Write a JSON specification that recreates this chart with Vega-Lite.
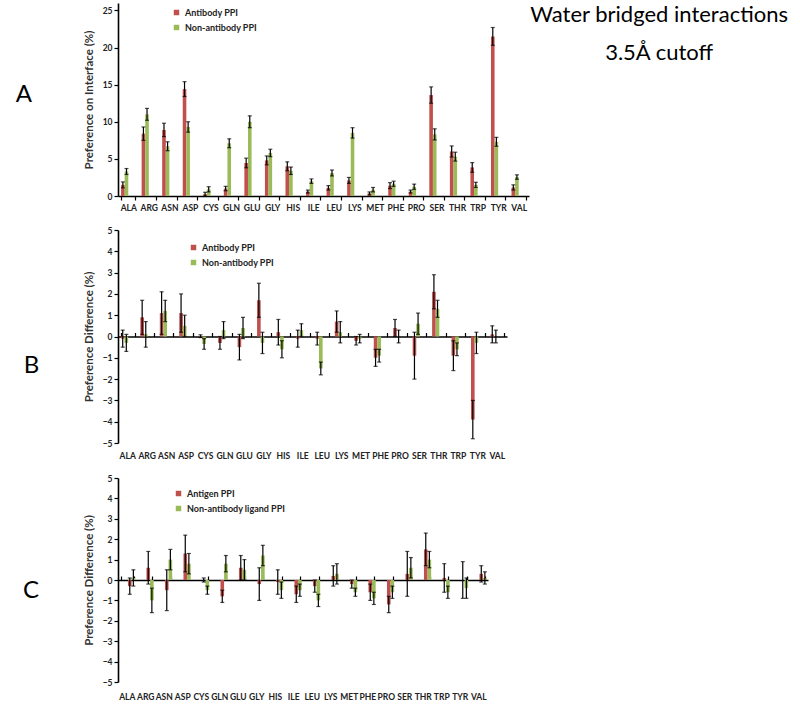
{
  "$schema": "https://vega.github.io/schema/vega-lite/v6.json",
  "background": "white",
  "padding": {"left": 15, "top": 3, "right": 2, "bottom": 2},
  "config": {
    "font": "Lato",
    "view": {"stroke": null},
    "axis": {"domainColor": "black", "domainWidth": 1.6, "tickColor": "black", "tickWidth": 1.2, "tickSize": 4, "labelFont": "Lato", "labelFontWeight": "bold", "labelFontSize": 8.5, "labelColor": "#222", "labelOverlap": false, "titleFont": "Lato", "titleFontWeight": "bold", "titleFontSize": 11.5, "titleColor": "#333", "grid": false},
    "legend": {"symbolType": "square", "symbolSize": 30, "symbolStrokeWidth": 0, "labelFont": "Lato", "labelFontSize": 9, "labelFontWeight": "bold", "labelColor": "#222", "rowPadding": 5, "title": null},
    "title": {"font": "Lato", "fontWeight": "normal", "color": "black"}
  },
  "title": {"text": ["Water bridged interactions", "3.5Å cutoff"], "orient": "right", "anchor": "start", "angle": 0, "align": "center", "baseline": "top", "fontSize": 22, "lineHeight": 38, "offset": -128, "dy": 2},
  "datasets": {
    "A": [
      {"aa": "ALA", "g": "Antibody PPI", "v": 1.5, "lo": 1.1, "hi": 1.9},
      {"aa": "ALA", "g": "Non-antibody PPI", "v": 3.3, "lo": 2.9, "hi": 3.7},
      {"aa": "ARG", "g": "Antibody PPI", "v": 8.4, "lo": 7.5, "hi": 9.3},
      {"aa": "ARG", "g": "Non-antibody PPI", "v": 11.0, "lo": 10.2, "hi": 11.8},
      {"aa": "ASN", "g": "Antibody PPI", "v": 8.9, "lo": 8.0, "hi": 9.8},
      {"aa": "ASN", "g": "Non-antibody PPI", "v": 6.7, "lo": 6.1, "hi": 7.3},
      {"aa": "ASP", "g": "Antibody PPI", "v": 14.4, "lo": 13.4, "hi": 15.4},
      {"aa": "ASP", "g": "Non-antibody PPI", "v": 9.3, "lo": 8.6, "hi": 10.0},
      {"aa": "CYS", "g": "Antibody PPI", "v": 0.25, "lo": 0.0, "hi": 0.5},
      {"aa": "CYS", "g": "Non-antibody PPI", "v": 0.9, "lo": 0.55, "hi": 1.25},
      {"aa": "GLN", "g": "Antibody PPI", "v": 1.0, "lo": 0.7, "hi": 1.3},
      {"aa": "GLN", "g": "Non-antibody PPI", "v": 7.1, "lo": 6.5, "hi": 7.7},
      {"aa": "GLU", "g": "Antibody PPI", "v": 4.45, "lo": 3.8, "hi": 5.1},
      {"aa": "GLU", "g": "Non-antibody PPI", "v": 10.0, "lo": 9.2, "hi": 10.8},
      {"aa": "GLY", "g": "Antibody PPI", "v": 4.8, "lo": 4.2, "hi": 5.4},
      {"aa": "GLY", "g": "Non-antibody PPI", "v": 5.8, "lo": 5.3, "hi": 6.3},
      {"aa": "HIS", "g": "Antibody PPI", "v": 4.0, "lo": 3.4, "hi": 4.6},
      {"aa": "HIS", "g": "Non-antibody PPI", "v": 3.4, "lo": 2.9, "hi": 3.9},
      {"aa": "ILE", "g": "Antibody PPI", "v": 0.6, "lo": 0.4, "hi": 0.8},
      {"aa": "ILE", "g": "Non-antibody PPI", "v": 2.0, "lo": 1.7, "hi": 2.3},
      {"aa": "LEU", "g": "Antibody PPI", "v": 1.1, "lo": 0.8, "hi": 1.4},
      {"aa": "LEU", "g": "Non-antibody PPI", "v": 3.1, "lo": 2.7, "hi": 3.5},
      {"aa": "LYS", "g": "Antibody PPI", "v": 2.1, "lo": 1.7, "hi": 2.5},
      {"aa": "LYS", "g": "Non-antibody PPI", "v": 8.5, "lo": 7.8, "hi": 9.2},
      {"aa": "MET", "g": "Antibody PPI", "v": 0.35, "lo": 0.15, "hi": 0.55},
      {"aa": "MET", "g": "Non-antibody PPI", "v": 0.85, "lo": 0.55, "hi": 1.15},
      {"aa": "PHE", "g": "Antibody PPI", "v": 1.4, "lo": 1.0, "hi": 1.8},
      {"aa": "PHE", "g": "Non-antibody PPI", "v": 1.65, "lo": 1.3, "hi": 2.0},
      {"aa": "PRO", "g": "Antibody PPI", "v": 0.6, "lo": 0.4, "hi": 0.8},
      {"aa": "PRO", "g": "Non-antibody PPI", "v": 1.25, "lo": 0.9, "hi": 1.6},
      {"aa": "SER", "g": "Antibody PPI", "v": 13.6, "lo": 12.5, "hi": 14.7},
      {"aa": "SER", "g": "Non-antibody PPI", "v": 8.3, "lo": 7.55, "hi": 9.05},
      {"aa": "THR", "g": "Antibody PPI", "v": 6.0, "lo": 5.25, "hi": 6.75},
      {"aa": "THR", "g": "Non-antibody PPI", "v": 5.3, "lo": 4.7, "hi": 5.9},
      {"aa": "TRP", "g": "Antibody PPI", "v": 3.85, "lo": 3.2, "hi": 4.5},
      {"aa": "TRP", "g": "Non-antibody PPI", "v": 1.5, "lo": 1.15, "hi": 1.85},
      {"aa": "TYR", "g": "Antibody PPI", "v": 21.5, "lo": 20.3, "hi": 22.7},
      {"aa": "TYR", "g": "Non-antibody PPI", "v": 7.3, "lo": 6.7, "hi": 7.9},
      {"aa": "VAL", "g": "Antibody PPI", "v": 1.15, "lo": 0.8, "hi": 1.5},
      {"aa": "VAL", "g": "Non-antibody PPI", "v": 2.55, "lo": 2.25, "hi": 2.85}
    ],
    "B": [
      {"aa": "ALA", "g": "Antibody PPI", "v": -0.1, "lo": -0.5, "hi": 0.3},
      {"aa": "ALA", "g": "Non-antibody PPI", "v": -0.3, "lo": -0.7, "hi": 0.1},
      {"aa": "ARG", "g": "Antibody PPI", "v": 0.9, "lo": 0.1, "hi": 1.7},
      {"aa": "ARG", "g": "Non-antibody PPI", "v": 0.1, "lo": -0.5, "hi": 0.7},
      {"aa": "ASN", "g": "Antibody PPI", "v": 1.1, "lo": 0.1, "hi": 2.1},
      {"aa": "ASN", "g": "Non-antibody PPI", "v": 1.2, "lo": 0.7, "hi": 1.7},
      {"aa": "ASP", "g": "Antibody PPI", "v": 1.1, "lo": 0.2, "hi": 2.0},
      {"aa": "ASP", "g": "Non-antibody PPI", "v": 0.5, "lo": 0.0, "hi": 1.0},
      {"aa": "CYS", "g": "Antibody PPI", "v": 0.02, "lo": -0.05, "hi": 0.08},
      {"aa": "CYS", "g": "Non-antibody PPI", "v": -0.35, "lo": -0.6, "hi": -0.1},
      {"aa": "GLN", "g": "Antibody PPI", "v": -0.3, "lo": -0.6, "hi": 0.0},
      {"aa": "GLN", "g": "Non-antibody PPI", "v": 0.3, "lo": -0.1, "hi": 0.7},
      {"aa": "GLU", "g": "Antibody PPI", "v": -0.5, "lo": -1.1, "hi": 0.1},
      {"aa": "GLU", "g": "Non-antibody PPI", "v": 0.4, "lo": -0.1, "hi": 0.9},
      {"aa": "GLY", "g": "Antibody PPI", "v": 1.7, "lo": 0.9, "hi": 2.5},
      {"aa": "GLY", "g": "Non-antibody PPI", "v": -0.3, "lo": -0.8, "hi": 0.2},
      {"aa": "HIS", "g": "Antibody PPI", "v": 0.2, "lo": -0.4, "hi": 0.8},
      {"aa": "HIS", "g": "Non-antibody PPI", "v": -0.6, "lo": -1.0, "hi": -0.2},
      {"aa": "ILE", "g": "Antibody PPI", "v": -0.1, "lo": -0.5, "hi": 0.3},
      {"aa": "ILE", "g": "Non-antibody PPI", "v": 0.3, "lo": 0.0, "hi": 0.6},
      {"aa": "LEU", "g": "Antibody PPI", "v": -0.1, "lo": -0.4, "hi": 0.2},
      {"aa": "LEU", "g": "Non-antibody PPI", "v": -1.5, "lo": -1.8, "hi": -1.2},
      {"aa": "LYS", "g": "Antibody PPI", "v": 0.7, "lo": 0.2, "hi": 1.2},
      {"aa": "LYS", "g": "Non-antibody PPI", "v": 0.2, "lo": -0.3, "hi": 0.7},
      {"aa": "MET", "g": "Antibody PPI", "v": -0.2, "lo": -0.4, "hi": 0.0},
      {"aa": "MET", "g": "Non-antibody PPI", "v": -0.1, "lo": -0.3, "hi": 0.1},
      {"aa": "PHE", "g": "Antibody PPI", "v": -1.0, "lo": -1.4, "hi": -0.6},
      {"aa": "PHE", "g": "Non-antibody PPI", "v": -0.9, "lo": -1.2, "hi": -0.6},
      {"aa": "PRO", "g": "Antibody PPI", "v": 0.4, "lo": 0.0, "hi": 0.8},
      {"aa": "PRO", "g": "Non-antibody PPI", "v": 0.0, "lo": -0.3, "hi": 0.3},
      {"aa": "SER", "g": "Antibody PPI", "v": -0.9, "lo": -2.0, "hi": 0.2},
      {"aa": "SER", "g": "Non-antibody PPI", "v": 0.6, "lo": 0.1, "hi": 1.1},
      {"aa": "THR", "g": "Antibody PPI", "v": 2.1, "lo": 1.3, "hi": 2.9},
      {"aa": "THR", "g": "Non-antibody PPI", "v": 1.3, "lo": 0.9, "hi": 1.7},
      {"aa": "TRP", "g": "Antibody PPI", "v": -0.9, "lo": -1.6, "hi": -0.2},
      {"aa": "TRP", "g": "Non-antibody PPI", "v": -0.6, "lo": -0.9, "hi": -0.3},
      {"aa": "TYR", "g": "Antibody PPI", "v": -3.9, "lo": -4.8, "hi": -3.0},
      {"aa": "TYR", "g": "Non-antibody PPI", "v": -0.3, "lo": -0.8, "hi": 0.2},
      {"aa": "VAL", "g": "Antibody PPI", "v": 0.1, "lo": -0.3, "hi": 0.5},
      {"aa": "VAL", "g": "Non-antibody PPI", "v": 0.0, "lo": -0.3, "hi": 0.3}
    ],
    "C": [
      {"aa": "ALA", "g": "Antigen PPI", "v": -0.3, "lo": -0.7, "hi": 0.1},
      {"aa": "ALA", "g": "Non-antibody ligand PPI", "v": 0.1, "lo": -0.3, "hi": 0.5},
      {"aa": "ARG", "g": "Antigen PPI", "v": 0.6, "lo": -0.2, "hi": 1.4},
      {"aa": "ARG", "g": "Non-antibody ligand PPI", "v": -1.0, "lo": -1.6, "hi": -0.4},
      {"aa": "ASN", "g": "Antigen PPI", "v": -0.5, "lo": -1.5, "hi": 0.5},
      {"aa": "ASN", "g": "Non-antibody ligand PPI", "v": 1.0, "lo": 0.5, "hi": 1.5},
      {"aa": "ASP", "g": "Antigen PPI", "v": 1.3, "lo": 0.4, "hi": 2.2},
      {"aa": "ASP", "g": "Non-antibody ligand PPI", "v": 0.8, "lo": 0.3, "hi": 1.3},
      {"aa": "CYS", "g": "Antigen PPI", "v": 0.0, "lo": -0.1, "hi": 0.1},
      {"aa": "CYS", "g": "Non-antibody ligand PPI", "v": -0.5, "lo": -0.7, "hi": -0.3},
      {"aa": "GLN", "g": "Antigen PPI", "v": -0.8, "lo": -1.1, "hi": -0.5},
      {"aa": "GLN", "g": "Non-antibody ligand PPI", "v": 0.8, "lo": 0.4, "hi": 1.2},
      {"aa": "GLU", "g": "Antigen PPI", "v": 0.6, "lo": 0.0, "hi": 1.2},
      {"aa": "GLU", "g": "Non-antibody ligand PPI", "v": 0.5, "lo": 0.0, "hi": 1.0},
      {"aa": "GLY", "g": "Antigen PPI", "v": -0.2, "lo": -1.0, "hi": 0.6},
      {"aa": "GLY", "g": "Non-antibody ligand PPI", "v": 1.2, "lo": 0.7, "hi": 1.7},
      {"aa": "HIS", "g": "Antigen PPI", "v": -0.1, "lo": -0.7, "hi": 0.5},
      {"aa": "HIS", "g": "Non-antibody ligand PPI", "v": -0.5, "lo": -0.9, "hi": -0.1},
      {"aa": "ILE", "g": "Antigen PPI", "v": -0.7, "lo": -1.1, "hi": -0.3},
      {"aa": "ILE", "g": "Non-antibody ligand PPI", "v": -0.5, "lo": -0.8, "hi": -0.2},
      {"aa": "LEU", "g": "Antigen PPI", "v": -0.3, "lo": -0.6, "hi": 0.0},
      {"aa": "LEU", "g": "Non-antibody ligand PPI", "v": -1.0, "lo": -1.3, "hi": -0.7},
      {"aa": "LYS", "g": "Antigen PPI", "v": 0.2, "lo": -0.3, "hi": 0.7},
      {"aa": "LYS", "g": "Non-antibody ligand PPI", "v": 0.3, "lo": -0.2, "hi": 0.8},
      {"aa": "MET", "g": "Antigen PPI", "v": -0.2, "lo": -0.4, "hi": 0.0},
      {"aa": "MET", "g": "Non-antibody ligand PPI", "v": -0.6, "lo": -0.8, "hi": -0.4},
      {"aa": "PHE", "g": "Antigen PPI", "v": -0.6, "lo": -1.0, "hi": -0.2},
      {"aa": "PHE", "g": "Non-antibody ligand PPI", "v": -0.9, "lo": -1.2, "hi": -0.6},
      {"aa": "PRO", "g": "Antigen PPI", "v": -1.2, "lo": -1.6, "hi": -0.8},
      {"aa": "PRO", "g": "Non-antibody ligand PPI", "v": -0.6, "lo": -0.9, "hi": -0.3},
      {"aa": "SER", "g": "Antigen PPI", "v": 0.3, "lo": -0.8, "hi": 1.4},
      {"aa": "SER", "g": "Non-antibody ligand PPI", "v": 0.6, "lo": 0.1, "hi": 1.1},
      {"aa": "THR", "g": "Antigen PPI", "v": 1.5, "lo": 0.7, "hi": 2.3},
      {"aa": "THR", "g": "Non-antibody ligand PPI", "v": 1.0, "lo": 0.6, "hi": 1.4},
      {"aa": "TRP", "g": "Antigen PPI", "v": 0.1, "lo": -0.6, "hi": 0.8},
      {"aa": "TRP", "g": "Non-antibody ligand PPI", "v": -0.6, "lo": -0.9, "hi": -0.3},
      {"aa": "TYR", "g": "Antigen PPI", "v": 0.0, "lo": -0.9, "hi": 0.9},
      {"aa": "TYR", "g": "Non-antibody ligand PPI", "v": -0.4, "lo": -0.9, "hi": 0.1},
      {"aa": "VAL", "g": "Antigen PPI", "v": 0.3, "lo": -0.1, "hi": 0.7},
      {"aa": "VAL", "g": "Non-antibody ligand PPI", "v": 0.1, "lo": -0.2, "hi": 0.4}
    ]
  },
  "spacing": 14,
  "resolve": {"scale": {"color": "independent"}, "legend": {"color": "independent"}},
  "vconcat": [
    {
      "width": 411, "height": 193,
      "title": {"text": "A", "orient": "left", "anchor": "middle", "angle": 0, "align": "center", "baseline": "middle", "fontSize": 24, "offset": 43, "dy": -5},
      "data": {"name": "A"},
      "layer": [
        {
          "mark": {"type": "bar"},
          "encoding": {
            "x": {"field": "aa", "type": "nominal", "sort": null, "scale": {"paddingInner": 0.3, "paddingOuter": 0.15}, "axis": {"labelAngle": 0, "tickBand": "extent", "labelPadding": 3, "title": null}},
            "xOffset": {"field": "g", "type": "nominal", "sort": null, "scale": {"paddingInner": 0, "paddingOuter": 0}},
            "y": {"field": "v", "type": "quantitative", "title": "Preference on Interface  (%)", "scale": {"domain": [0, 25]}, "axis": {"values": [0, 5, 10, 15, 20, 25], "titlePadding": 8}},
            "color": {"field": "g", "type": "nominal", "scale": {"domain": ["Antibody PPI", "Non-antibody PPI"], "range": ["#c0504d", "#9bbb59"]}, "legend": {"orient": "none", "legendX": 54, "legendY": 5}}
          }
        },
        {
          "mark": {"type": "rule", "color": "black", "strokeWidth": 1.2},
          "encoding": {
            "x": {"field": "aa", "type": "nominal", "sort": null},
            "xOffset": {"field": "g", "type": "nominal", "sort": null},
            "y": {"field": "lo", "type": "quantitative", "title": "Preference on Interface  (%)", "axis": {"values": [0, 5, 10, 15, 20, 25], "titlePadding": 8}},
            "y2": {"field": "hi"}
          }
        },
        {
          "mark": {"type": "tick", "color": "black", "size": 4, "thickness": 1.2},
          "encoding": {
            "x": {"field": "aa", "type": "nominal", "sort": null},
            "xOffset": {"field": "g", "type": "nominal", "sort": null},
            "y": {"field": "lo", "type": "quantitative", "title": "Preference on Interface  (%)", "axis": {"values": [0, 5, 10, 15, 20, 25], "titlePadding": 8}}
          }
        },
        {
          "mark": {"type": "tick", "color": "black", "size": 4, "thickness": 1.2},
          "encoding": {
            "x": {"field": "aa", "type": "nominal", "sort": null},
            "xOffset": {"field": "g", "type": "nominal", "sort": null},
            "y": {"field": "hi", "type": "quantitative", "title": "Preference on Interface  (%)", "axis": {"values": [0, 5, 10, 15, 20, 25], "titlePadding": 8}}
          }
        }
      ]
    },
    {
      "width": 389, "height": 213,
      "title": {"text": "B", "orient": "left", "anchor": "middle", "angle": 0, "align": "center", "baseline": "middle", "fontSize": 24, "offset": 36, "dy": 29},
      "data": {"name": "B"},
      "resolve": {"axis": {"x": "independent"}},
      "layer": [
        {
          "mark": {"type": "bar"},
          "encoding": {
            "x": {"field": "aa", "type": "nominal", "sort": null, "scale": {"paddingInner": 0.3, "paddingOuter": 0.15}, "axis": {"orient": "bottom", "domain": false, "ticks": false, "labelAngle": 0, "labelPadding": 8, "title": null}},
            "xOffset": {"field": "g", "type": "nominal", "sort": null, "scale": {"paddingInner": 0, "paddingOuter": 0}},
            "y": {"field": "v", "type": "quantitative", "title": "Preference Difference  (%)", "scale": {"domain": [-5, 5]}, "axis": {"values": [-5, -4, -3, -2, -1, 0, 1, 2, 3, 4, 5], "titlePadding": 8}},
            "color": {"field": "g", "type": "nominal", "scale": {"domain": ["Antibody PPI", "Non-antibody PPI"], "range": ["#c0504d", "#9bbb59"]}, "legend": {"orient": "none", "legendX": 71, "legendY": 13}}
          }
        },
        {
          "mark": {"type": "rule", "color": "black", "strokeWidth": 1.2},
          "encoding": {
            "x": {"field": "aa", "type": "nominal", "sort": null, "axis": {"orient": "top", "offset": -106.5, "labels": false, "tickBand": "extent", "tickSize": 4, "title": null}},
            "xOffset": {"field": "g", "type": "nominal", "sort": null},
            "y": {"field": "lo", "type": "quantitative", "title": "Preference Difference  (%)", "axis": {"values": [-5, -4, -3, -2, -1, 0, 1, 2, 3, 4, 5], "titlePadding": 8}},
            "y2": {"field": "hi"}
          }
        },
        {
          "mark": {"type": "tick", "color": "black", "size": 4, "thickness": 1.2},
          "encoding": {
            "x": {"field": "aa", "type": "nominal", "sort": null, "axis": null},
            "xOffset": {"field": "g", "type": "nominal", "sort": null},
            "y": {"field": "lo", "type": "quantitative", "title": "Preference Difference  (%)", "axis": {"values": [-5, -4, -3, -2, -1, 0, 1, 2, 3, 4, 5], "titlePadding": 8}}
          }
        },
        {
          "mark": {"type": "tick", "color": "black", "size": 4, "thickness": 1.2},
          "encoding": {
            "x": {"field": "aa", "type": "nominal", "sort": null, "axis": null},
            "xOffset": {"field": "g", "type": "nominal", "sort": null},
            "y": {"field": "hi", "type": "quantitative", "title": "Preference Difference  (%)", "axis": {"values": [-5, -4, -3, -2, -1, 0, 1, 2, 3, 4, 5], "titlePadding": 8}}
          }
        }
      ]
    },
    {
      "width": 370, "height": 204,
      "title": {"text": "C", "orient": "left", "anchor": "middle", "angle": 0, "align": "center", "baseline": "middle", "fontSize": 24, "offset": 36, "dy": 11},
      "data": {"name": "C"},
      "resolve": {"axis": {"x": "independent"}},
      "layer": [
        {
          "mark": {"type": "bar"},
          "encoding": {
            "x": {"field": "aa", "type": "nominal", "sort": null, "scale": {"paddingInner": 0.3, "paddingOuter": 0.15}, "axis": {"orient": "bottom", "domain": false, "ticks": false, "labelAngle": 0, "labelPadding": 10, "title": null}},
            "xOffset": {"field": "g", "type": "nominal", "sort": null, "scale": {"paddingInner": 0, "paddingOuter": 0}},
            "y": {"field": "v", "type": "quantitative", "title": "Preference  Difference  (%)", "scale": {"domain": [-5, 5]}, "axis": {"values": [-5, -4, -3, -2, -1, 0, 1, 2, 3, 4, 5], "titlePadding": 8}},
            "color": {"field": "g", "type": "nominal", "scale": {"domain": ["Antigen PPI", "Non-antibody ligand PPI"], "range": ["#c0504d", "#9bbb59"]}, "legend": {"orient": "none", "legendX": 56, "legendY": 11}}
          }
        },
        {
          "mark": {"type": "rule", "color": "black", "strokeWidth": 1.2},
          "encoding": {
            "x": {"field": "aa", "type": "nominal", "sort": null, "axis": {"orient": "top", "offset": -102, "labels": false, "tickBand": "extent", "tickSize": 4, "title": null}},
            "xOffset": {"field": "g", "type": "nominal", "sort": null},
            "y": {"field": "lo", "type": "quantitative", "title": "Preference  Difference  (%)", "axis": {"values": [-5, -4, -3, -2, -1, 0, 1, 2, 3, 4, 5], "titlePadding": 8}},
            "y2": {"field": "hi"}
          }
        },
        {
          "mark": {"type": "tick", "color": "black", "size": 4, "thickness": 1.2},
          "encoding": {
            "x": {"field": "aa", "type": "nominal", "sort": null, "axis": null},
            "xOffset": {"field": "g", "type": "nominal", "sort": null},
            "y": {"field": "lo", "type": "quantitative", "title": "Preference  Difference  (%)", "axis": {"values": [-5, -4, -3, -2, -1, 0, 1, 2, 3, 4, 5], "titlePadding": 8}}
          }
        },
        {
          "mark": {"type": "tick", "color": "black", "size": 4, "thickness": 1.2},
          "encoding": {
            "x": {"field": "aa", "type": "nominal", "sort": null, "axis": null},
            "xOffset": {"field": "g", "type": "nominal", "sort": null},
            "y": {"field": "hi", "type": "quantitative", "title": "Preference  Difference  (%)", "axis": {"values": [-5, -4, -3, -2, -1, 0, 1, 2, 3, 4, 5], "titlePadding": 8}}
          }
        }
      ]
    }
  ]
}
